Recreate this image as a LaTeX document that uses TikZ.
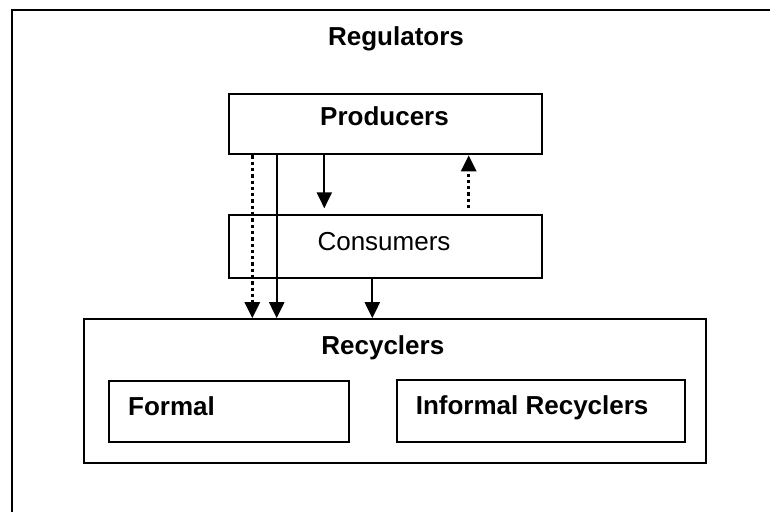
\documentclass[tikz,border=0pt]{standalone}
\usepackage{fontspec}
\setmainfont{Liberation Sans}
\usetikzlibrary{arrows.meta}
\begin{document}
\begin{tikzpicture}[x=1pt,y=-1pt,
  box/.style={draw,line width=2.1pt,inner sep=0pt,anchor=north west},
  lbl/.style={inner sep=0pt,anchor=base,font=\fontsize{26}{28}\selectfont\bfseries},
  lblplain/.style={inner sep=0pt,anchor=base,font=\fontsize{26}{28}\selectfont},
  flow/.style={line width=2.2pt,-{Triangle[length=16pt,width=15pt]}},
  dotflow/.style={flow,line width=2.6pt,dash pattern=on 3.3pt off 3pt}]
\useasboundingbox (0,0) rectangle (770,511);
% open frame of the regulators' field
\coordinate (frameBL) at (12,520);
\coordinate (frameTL) at (12,10);
\coordinate (frameTR) at (780,10);
\draw[line width=2.3pt] (frameBL) -- (frameTL) -- (frameTR);
\node[lbl] (regulators) at (396,45.7) {Regulators};
% boxes
\node[box,minimum width=313pt,minimum height=60.5pt] (producers) at (228,92.7) {};
\node[box,minimum width=313pt,minimum height=62.7pt] (consumers) at (228,214) {};
\node[box,minimum width=622pt,minimum height=143.5pt] (recyclers) at (83.3,318.2) {};
\node[box,minimum width=240pt,minimum height=61pt] (formal) at (108.3,380) {};
\node[box,minimum width=288pt,minimum height=62pt] (informal) at (396,379.3) {};
% labels
\node[lbl] (tProducers) at (384.5,125.7) {Producers};
\node[lblplain] (tConsumers) at (384,250) {Consumers};
\node[lbl] (tRecyclers) at (382.8,354.3) {Recyclers};
\node[lbl,anchor=base west] (tFormal) at (128,415) {Formal};
\node[lbl,anchor=base west] (tInformal) at (415.6,414.3) {Informal Recyclers};
% flows (the two short ones stop just above the consumers box)
\coordinate (gapL) at ([yshift=5.7pt]consumers.north west -| 324.3,0);
\coordinate (gapR) at ([yshift=5.7pt]consumers.north west -| 468.7,0);
\draw[dotflow] (producers.south west -| 252.3,0) -- (recyclers.north west -| 252.3,0);
\draw[flow] (producers.south west -| 276.7,0) -- (recyclers.north west -| 276.7,0);
\draw[flow] (producers.south west -| 324.3,0) -- (gapL);
\draw[dotflow] (gapR) -- (producers.south west -| 468.7,0);
\draw[flow] (consumers.south west -| 372.3,0) -- (recyclers.north west -| 372.3,0);
\end{tikzpicture}
\end{document}
